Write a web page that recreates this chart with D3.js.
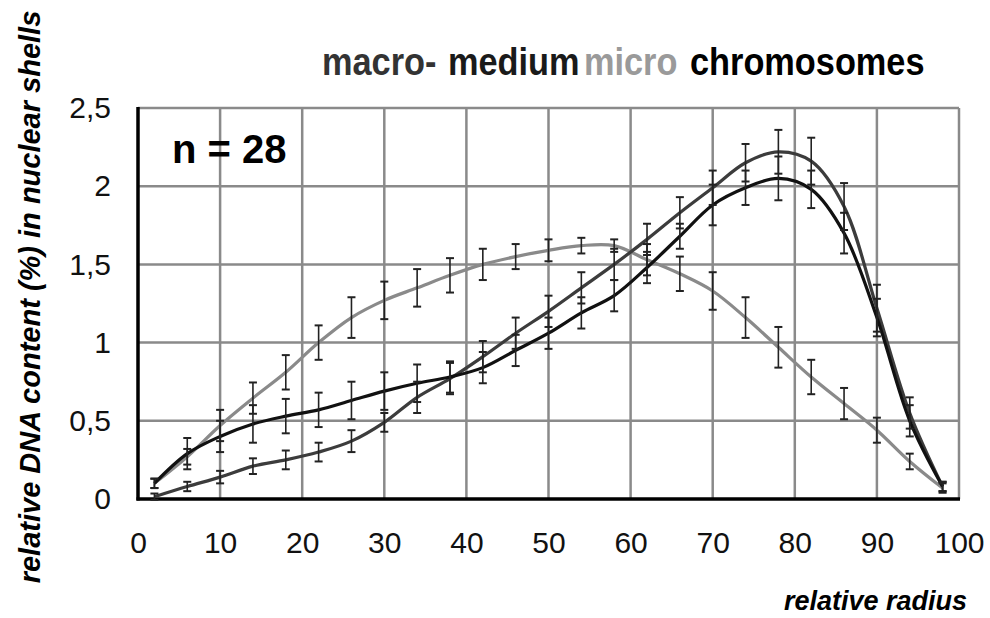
<!DOCTYPE html>
<html>
<head>
<meta charset="utf-8">
<script src="https://cdn.jsdelivr.net/npm/d3@7"></script>
<style>
html,body{margin:0;padding:0;background:#fff;}
svg{display:block;}
</style>
</head>
<body>
<svg id="chart" width="990" height="618"></svg>
<script>
// ---- data ----
const radius = [2, 6, 10, 14, 18, 22, 26, 30, 34, 38, 42, 46, 50, 54, 58, 62, 66, 70, 74, 78, 82, 86, 90, 94, 98];
const micro  = [0.10, 0.27, 0.47, 0.645, 0.81, 1.00, 1.16, 1.27, 1.35, 1.43, 1.50, 1.55, 1.59, 1.62, 1.62, 1.53, 1.44, 1.33, 1.16, 0.97, 0.78, 0.61, 0.44, 0.24, 0.07];
const microErr = [0.03, 0.05, 0.10, 0.10, 0.11, 0.11, 0.13, 0.12, 0.12, 0.11, 0.10, 0.08, 0.07, 0.05, 0.04, 0.10, 0.11, 0.12, 0.13, 0.13, 0.11, 0.10, 0.08, 0.05, 0.03];
const macro  = [0.015, 0.08, 0.14, 0.21, 0.25, 0.30, 0.37, 0.49, 0.65, 0.77, 0.91, 1.06, 1.20, 1.35, 1.50, 1.66, 1.83, 1.99, 2.15, 2.22, 2.16, 1.87, 1.22, 0.55, 0.08];
const macroErr = [0.02, 0.03, 0.04, 0.05, 0.06, 0.06, 0.07, 0.06, 0.10, 0.10, 0.10, 0.10, 0.10, 0.10, 0.10, 0.10, 0.10, 0.11, 0.12, 0.14, 0.15, 0.15, 0.15, 0.10, 0.03];
const medium = [0.10, 0.29, 0.40, 0.48, 0.53, 0.57, 0.63, 0.69, 0.74, 0.78, 0.84, 0.95, 1.06, 1.19, 1.30, 1.48, 1.68, 1.88, 1.99, 2.05, 1.98, 1.70, 1.16, 0.50, 0.08];
const mediumErr = [0.03, 0.10, 0.10, 0.12, 0.11, 0.11, 0.12, 0.12, 0.12, 0.10, 0.10, 0.10, 0.10, 0.10, 0.10, 0.10, 0.08, 0.13, 0.11, 0.14, 0.12, 0.13, 0.12, 0.10, 0.03];

const xTicks = [0, 10, 20, 30, 40, 50, 60, 70, 80, 90, 100];
const yTicks = [0, 0.5, 1, 1.5, 2, 2.5];
const yTickLabels = ["0", "0,5", "1", "1,5", "2", "2,5"];

const titleWords = ["macro-", "medium", "micro", "chromosomes"];
const annotation = "n = 28";
const xTitle = "relative radius";
const yTitle = "relative DNA content (%) in nuclear shells";

// ---- layout ----
const svg = d3.select("#chart");
const L = 138, R = 959, T = 108, B = 499;
const x = d3.scaleLinear().domain([0, 100]).range([L, R]);
const y = d3.scaleLinear().domain([0, 2.5]).range([B, T]);
const font = "'Liberation Sans', Arial, Helvetica, sans-serif";

// grid
const grid = svg.append("g");
grid.selectAll("line.v").data(xTicks.filter(d => d > 0)).enter().append("line")
  .attr("x1", d => x(d)).attr("x2", d => x(d)).attr("y1", T).attr("y2", B)
  .attr("stroke", "#8a8a8a").attr("stroke-width", 2.5);
grid.selectAll("line.h").data(yTicks.filter(d => d > 0)).enter().append("line")
  .attr("x1", L).attr("x2", R).attr("y1", d => y(d)).attr("y2", d => y(d))
  .attr("stroke", "#8a8a8a").attr("stroke-width", 2.5);

// axes lines
svg.append("line").attr("x1", L).attr("x2", L).attr("y1", T - 1).attr("y2", B + 1.5)
  .attr("stroke", "#000").attr("stroke-width", 3.5);
svg.append("line").attr("x1", L - 1.5).attr("x2", R + 1).attr("y1", B).attr("y2", B)
  .attr("stroke", "#000").attr("stroke-width", 3.5);

// tick labels via d3 axes
const xAxis = d3.axisBottom(x).tickValues(xTicks).tickSize(0).tickPadding(0).tickFormat(d3.format("d"));
const gx = svg.append("g").attr("transform", `translate(0,${B + 33})`).call(xAxis);
gx.select(".domain").remove();
gx.selectAll("text").attr("font-family", font).attr("font-size", 30).attr("fill", "#111").attr("dy", "0.71em").attr("y", 0);

const yAxis = d3.axisLeft(y).tickValues(yTicks).tickSize(0).tickPadding(0).tickFormat((d, i) => yTickLabels[i]);
const gy = svg.append("g").attr("transform", `translate(${L - 27},0)`).call(yAxis);
gy.select(".domain").remove();
gy.selectAll("text").attr("font-family", font).attr("font-size", 30).attr("fill", "#111");

// lines
const series = [
  {vals: micro, err: microErr, color: "#8a8a8a"},
  {vals: macro, err: macroErr, color: "#3c3c3c"},
  {vals: medium, err: mediumErr, color: "#111111"}
];
const line = d3.line().x(d => x(d[0])).y(d => y(d[1])).curve(d3.curveCatmullRom.alpha(0.5));
series.forEach(s => {
  svg.append("path").datum(radius.map((r, i) => [r, s.vals[i]]))
    .attr("d", line).attr("fill", "none").attr("stroke", s.color).attr("stroke-width", 3.2)
    .attr("stroke-linejoin", "round");
});

// error bars
series.forEach(s => {
  const g = svg.append("g").attr("stroke", "#222").attr("stroke-width", 1.6);
  radius.forEach((r, i) => {
    const cx = x(r), y0 = y(s.vals[i] - s.err[i]), y1 = y(s.vals[i] + s.err[i]);
    g.append("line").attr("x1", cx).attr("x2", cx).attr("y1", y0).attr("y2", y1);
    g.append("line").attr("x1", cx - 4).attr("x2", cx + 4).attr("y1", y0).attr("y2", y0).attr("stroke-width", 2);
    g.append("line").attr("x1", cx - 4).attr("x2", cx + 4).attr("y1", y1).attr("y2", y1).attr("stroke-width", 2);
  });
});

// title (condensed bold)
const titleColors = ["#333333", "#1a1a1a", "#9a9a9a", "#000000"];
const titleX = [322, 448, 584, 690];
const sx = 0.88;
svg.selectAll("text.title").data(titleWords).enter().append("text")
  .attr("transform", (d, i) => `translate(${titleX[i]},75) scale(${sx},1)`)
  .attr("font-family", font).attr("font-weight", "bold").attr("font-size", 39)
  .attr("fill", (d, i) => titleColors[i]).text(d => d);

// annotation
svg.append("text").attr("x", 172).attr("y", 163)
  .attr("font-family", font).attr("font-weight", "bold").attr("font-size", 40)
  .attr("fill", "#000").text(annotation);

// axis titles
svg.append("text").attr("x", 967).attr("y", 610).attr("text-anchor", "end")
  .attr("font-family", font).attr("font-weight", "bold").attr("font-style", "italic").attr("font-size", 27)
  .attr("fill", "#000").text(xTitle);
svg.append("text").attr("transform", "translate(40,297) rotate(-90)").attr("text-anchor", "middle")
  .attr("font-family", font).attr("font-weight", "bold").attr("font-style", "italic").attr("font-size", 29)
  .attr("fill", "#000").text(yTitle);
</script>
</body>
</html>
